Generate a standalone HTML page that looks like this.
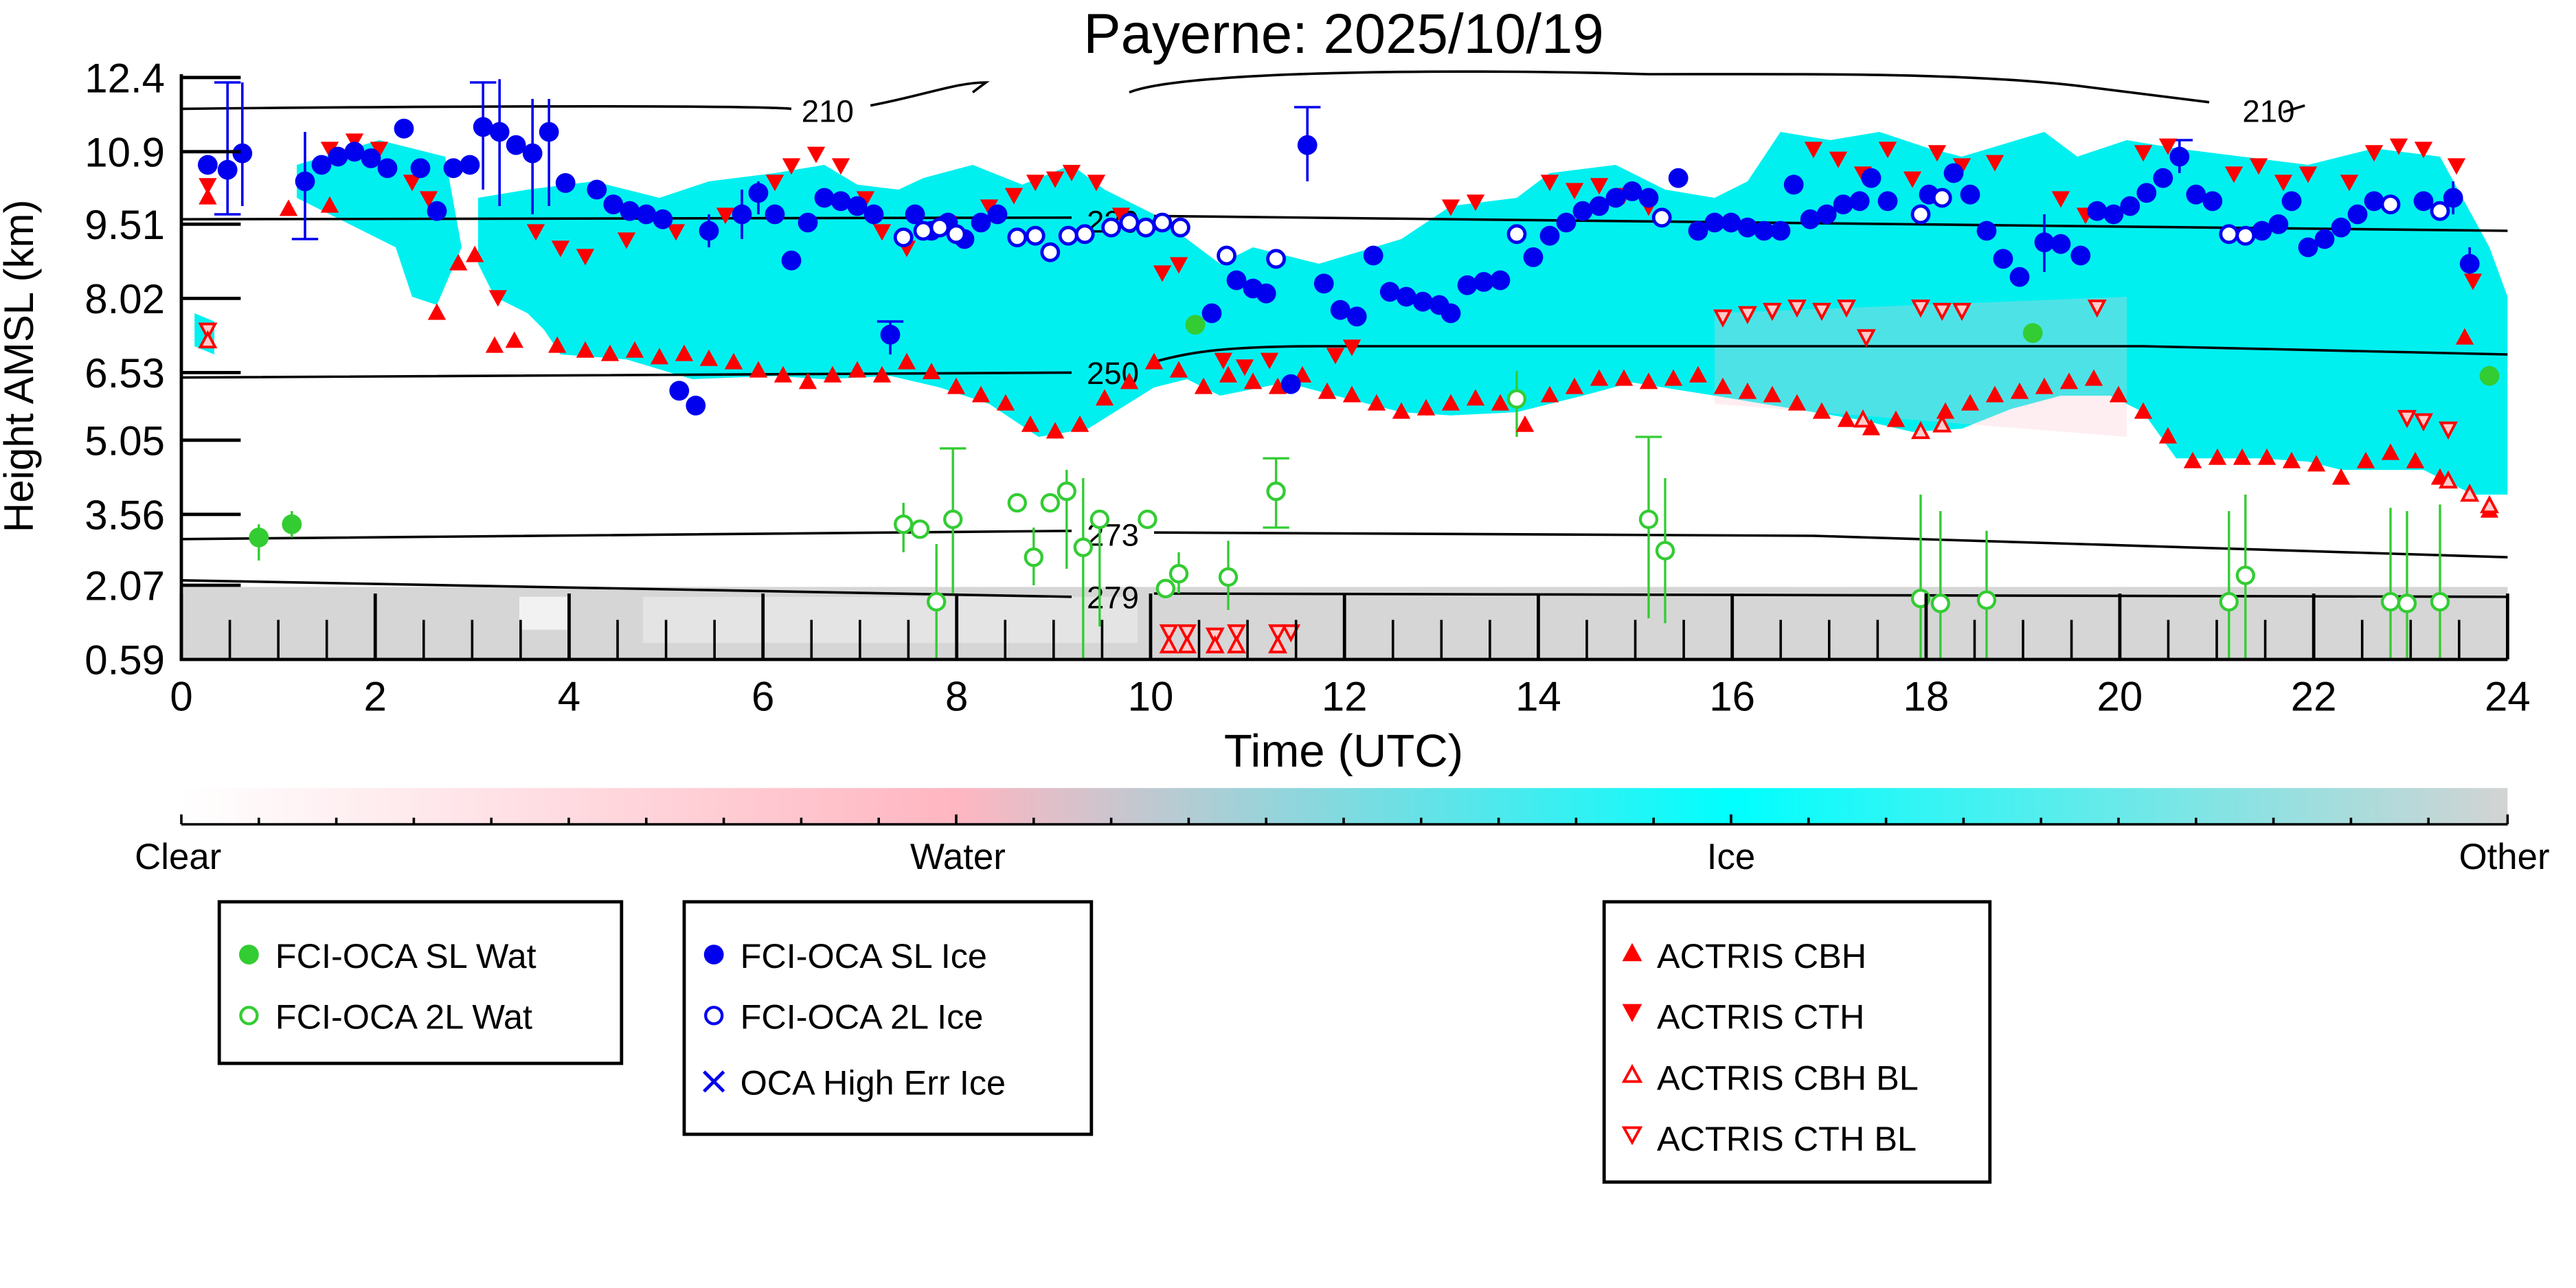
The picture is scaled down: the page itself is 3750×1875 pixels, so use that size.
<!DOCTYPE html>
<html><head><meta charset="utf-8"><style>html,body{margin:0;padding:0;background:#fff}svg{display:block}</style></head><body>
<svg xmlns="http://www.w3.org/2000/svg" xmlns:xlink="http://www.w3.org/1999/xlink" width="3750" height="1875" viewBox="0 0 1562.5 781.25" font-family="Liberation Sans, DejaVu Sans, sans-serif">
<defs>
<linearGradient id="cb" x1="0" x2="1" y1="0" y2="0">
<stop offset="0" stop-color="#ffffff"/><stop offset="0.333" stop-color="#ffb6c1"/><stop offset="0.667" stop-color="#00ffff"/><stop offset="1" stop-color="#d3d3d3"/></linearGradient>
<path id="tu" d="M0,-6 L5.5,4 L-5.5,4Z" fill="red"/>
<path id="td" d="M0,6 L5.5,-4 L-5.5,-4Z" fill="red"/>
<path id="tuo" d="M0,-5 L4.5,3.5 L-4.5,3.5Z" fill="#fcc" stroke="red" stroke-width="1.6"/>
<path id="tdo" d="M0,5 L4.5,-3.5 L-4.5,-3.5Z" fill="#fcc" stroke="red" stroke-width="1.6"/>
<circle id="bf" r="6" fill="#0000ee"/>
<circle id="bo" r="5" fill="#fff" stroke="#0000ee" stroke-width="2"/>
<circle id="gf" r="6" fill="#33cc33"/>
<circle id="go" r="5" fill="#fff" stroke="#33cc33" stroke-width="1.8"/>
</defs>
<text x="815" y="32" font-size="34" text-anchor="middle">Payerne: 2025/10/19</text>
<!-- ground clutter -->
<rect x="110" y="356" width="1411" height="44" fill="#d6d6d6"/>
<rect x="390" y="362" width="300" height="28" fill="#e4e4e4"/>
<rect x="315" y="362" width="30" height="20" fill="#f2f2f2"/>
<!-- cyan cloud -->
<path fill="#00f0f0" d="M290,120 L320,115 L360,110 L400,120 L430,110 L470,105 L500,100 L520,112 L545,115 L560,108 L590,100 L620,112 L650,100 L670,115 L700,130 L740,160 L760,150 L800,160 L850,145 L880,125 L920,120 L940,105 L980,100 L1010,115 L1040,120 L1060,110 L1080,80 L1110,85 L1140,80 L1170,90 L1190,95 L1240,80 L1260,95 L1290,85 L1320,90 L1360,95 L1400,100 L1440,90 L1480,95 L1510,150 L1521,180 L1521,300 L1500,300 L1470,285 L1420,285 L1400,280 L1370,278 L1320,278 L1300,250 L1280,240 L1250,240 L1220,248 L1190,260 L1160,262 L1130,255 L1100,250 L1040,240 L990,232 L960,240 L920,250 L880,252 L850,250 L810,240 L780,232 L740,240 L720,230 L700,235 L660,260 L630,265 L600,245 L570,235 L540,228 L500,230 L470,228 L420,230 L380,218 L340,215 L330,200 L320,190 L300,180 L290,160Z"/>
<path fill="#00f0f0" d="M180,100 L230,85 L270,95 L280,150 L265,185 L250,180 L240,150 L200,130 L180,120Z"/>
<path fill="#00f0f0" d="M118,190 L130,195 L130,215 L118,210Z"/>
<path fill="#ffc8d0" opacity="0.3" d="M1040,190 L1290,180 L1290,265 L1040,245Z"/>
<!-- contours -->
<g fill="none" stroke="#000" stroke-width="1.5">
<path d="M110,66 C300,64 460,64 480,66 M528,64 C560,58 580,50 598,50 L590,56 M685,56 C720,42 900,42 1000,45 C1100,45 1190,44 1260,52 L1340,62 M1398,64 L1385,68"/>
<path d="M110,133 L650,132 M700,131 L1521,140"/>
<path d="M110,229 L650,226 M698,220 C720,214 740,210 800,210 L1300,210 L1521,215"/>
<path d="M110,327 L650,322 M700,323 L1100,325 L1521,338"/>
<path d="M110,352 L650,362 M700,360 L1521,362"/>
</g>
<g font-size="19" text-anchor="middle"><text x="502" y="74">210</text><text x="1376" y="74">210</text><text x="675" y="141">230</text><text x="675" y="233">250</text><text x="675" y="331">273</text><text x="675" y="369">279</text></g>
<!-- error bars -->
<g stroke="#0000ee" stroke-width="1.5">
<path d="M138,50 V130 M130,50H146 M130,130H146 M147,50 V125 M185,80 V145 M177,145H193 M293,50 V115 M285,50H301 M303,48V125 M323,60V130 M333,60V125 M540,195V215 M532,195H548 M793,65V110 M785,65H801 M1322,85V105 M1314,85H1330 M1240,130V165 M1488,110V130 M1498,150V170 M430,130V150 M450,115V145 M460,110V130"/>
</g>
<g stroke="#33cc33" stroke-width="1.4">
<path d="M157,318V340 M177,310V326 M548,305V335 M568,330V400 M578,272V360 M570,272H586 M627,320V355 M647,285V345 M657,290V400 M667,310V380 M715,335V360 M745,328V370 M774,278V320 M766,278H782 M774,320H782 M766,320H774 M920,225V265 M1000,265V375 M992,265H1008 M1010,290V378 M1165,300V400 M1177,310V400 M1205,322V400 M1352,310V400 M1362,300V400 M1450,308V400 M1460,310V400 M1480,306V400"/>
</g>
<!-- triangles CBH -->
<g>
<use href="#tu" x="126" y="120"/><use href="#tu" x="175" y="127"/><use href="#tu" x="200" y="125"/><use href="#tu" x="265" y="190"/><use href="#tu" x="278" y="160"/><use href="#tu" x="288" y="155"/><use href="#tu" x="300" y="210"/><use href="#tu" x="312" y="207"/><use href="#tu" x="338" y="210"/>
<use href="#tu" x="355" y="213"/><use href="#tu" x="370" y="215"/><use href="#tu" x="385" y="213"/><use href="#tu" x="400" y="217"/><use href="#tu" x="415" y="215"/><use href="#tu" x="430" y="218"/><use href="#tu" x="445" y="220"/><use href="#tu" x="460" y="225"/><use href="#tu" x="475" y="228"/><use href="#tu" x="490" y="232"/><use href="#tu" x="505" y="228"/><use href="#tu" x="520" y="225"/><use href="#tu" x="535" y="228"/><use href="#tu" x="550" y="220"/><use href="#tu" x="565" y="226"/><use href="#tu" x="580" y="235"/><use href="#tu" x="595" y="240"/><use href="#tu" x="610" y="245"/><use href="#tu" x="625" y="258"/><use href="#tu" x="640" y="262"/><use href="#tu" x="655" y="258"/><use href="#tu" x="670" y="242"/><use href="#tu" x="685" y="232"/><use href="#tu" x="700" y="220"/><use href="#tu" x="715" y="225"/><use href="#tu" x="730" y="235"/><use href="#tu" x="745" y="228"/><use href="#tu" x="760" y="232"/><use href="#tu" x="775" y="235"/><use href="#tu" x="790" y="228"/><use href="#tu" x="805" y="238"/><use href="#tu" x="820" y="240"/><use href="#tu" x="835" y="245"/><use href="#tu" x="850" y="250"/><use href="#tu" x="865" y="248"/><use href="#tu" x="880" y="245"/><use href="#tu" x="895" y="242"/><use href="#tu" x="910" y="245"/><use href="#tu" x="925" y="258"/><use href="#tu" x="940" y="240"/><use href="#tu" x="955" y="235"/><use href="#tu" x="970" y="230"/><use href="#tu" x="985" y="230"/><use href="#tu" x="1000" y="232"/><use href="#tu" x="1015" y="230"/><use href="#tu" x="1030" y="228"/><use href="#tu" x="1045" y="235"/><use href="#tu" x="1060" y="238"/><use href="#tu" x="1075" y="240"/><use href="#tu" x="1090" y="245"/><use href="#tu" x="1105" y="250"/><use href="#tu" x="1120" y="255"/><use href="#tu" x="1135" y="260"/><use href="#tu" x="1150" y="255"/><use href="#tu" x="1180" y="250"/><use href="#tu" x="1195" y="245"/><use href="#tu" x="1210" y="240"/><use href="#tu" x="1225" y="238"/><use href="#tu" x="1240" y="235"/><use href="#tu" x="1255" y="232"/><use href="#tu" x="1270" y="230"/><use href="#tu" x="1285" y="240"/><use href="#tu" x="1300" y="250"/><use href="#tu" x="1315" y="265"/><use href="#tu" x="1330" y="280"/><use href="#tu" x="1345" y="278"/><use href="#tu" x="1360" y="278"/><use href="#tu" x="1375" y="278"/><use href="#tu" x="1390" y="280"/><use href="#tu" x="1405" y="282"/><use href="#tu" x="1420" y="290"/><use href="#tu" x="1435" y="280"/><use href="#tu" x="1450" y="275"/><use href="#tu" x="1465" y="280"/><use href="#tu" x="1480" y="290"/><use href="#tu" x="1495" y="205"/><use href="#tu" x="1510" y="310"/>
</g>
<!-- triangles CTH -->
<g>
<use href="#td" x="126" y="112"/><use href="#td" x="200" y="90"/><use href="#td" x="215" y="85"/><use href="#td" x="230" y="90"/><use href="#td" x="250" y="110"/><use href="#td" x="260" y="120"/><use href="#td" x="302" y="180"/><use href="#td" x="325" y="140"/><use href="#td" x="340" y="150"/><use href="#td" x="355" y="155"/><use href="#td" x="380" y="145"/><use href="#td" x="410" y="140"/><use href="#td" x="440" y="130"/><use href="#td" x="470" y="110"/><use href="#td" x="480" y="100"/><use href="#td" x="495" y="93"/><use href="#td" x="510" y="100"/><use href="#td" x="525" y="120"/><use href="#td" x="535" y="140"/><use href="#td" x="550" y="150"/><use href="#td" x="575" y="135"/><use href="#td" x="600" y="125"/><use href="#td" x="615" y="118"/><use href="#td" x="628" y="110"/><use href="#td" x="640" y="108"/><use href="#td" x="650" y="104"/><use href="#td" x="665" y="110"/><use href="#td" x="680" y="130"/><use href="#td" x="705" y="165"/><use href="#td" x="715" y="160"/><use href="#td" x="742" y="218"/><use href="#td" x="755" y="222"/><use href="#td" x="770" y="218"/><use href="#td" x="810" y="215"/><use href="#td" x="820" y="210"/><use href="#td" x="880" y="125"/><use href="#td" x="895" y="122"/><use href="#td" x="940" y="110"/><use href="#td" x="955" y="115"/><use href="#td" x="970" y="112"/><use href="#td" x="985" y="118"/><use href="#td" x="1000" y="125"/><use href="#td" x="1100" y="90"/><use href="#td" x="1115" y="96"/><use href="#td" x="1130" y="105"/><use href="#td" x="1145" y="90"/><use href="#td" x="1160" y="108"/><use href="#td" x="1175" y="92"/><use href="#td" x="1190" y="100"/><use href="#td" x="1210" y="98"/><use href="#td" x="1250" y="120"/><use href="#td" x="1265" y="130"/><use href="#td" x="1300" y="92"/><use href="#td" x="1315" y="88"/><use href="#td" x="1355" y="105"/><use href="#td" x="1370" y="100"/><use href="#td" x="1385" y="110"/><use href="#td" x="1400" y="105"/><use href="#td" x="1425" y="110"/><use href="#td" x="1440" y="92"/><use href="#td" x="1455" y="88"/><use href="#td" x="1470" y="90"/><use href="#td" x="1490" y="100"/><use href="#td" x="1500" y="170"/>
</g>
<!-- BL open triangles -->
<g>
<use href="#tdo" x="126" y="200"/><use href="#tuo" x="126" y="207"/>
<use href="#tdo" x="709" y="383"/><use href="#tuo" x="709" y="392"/><use href="#tdo" x="720" y="383"/><use href="#tuo" x="720" y="392"/><use href="#tdo" x="737" y="385"/><use href="#tuo" x="737" y="392"/><use href="#tdo" x="750" y="383"/><use href="#tuo" x="750" y="392"/><use href="#tdo" x="775" y="383"/><use href="#tuo" x="775" y="392"/><use href="#tdo" x="783" y="383"/>
<use href="#tdo" x="1045" y="192"/><use href="#tdo" x="1060" y="190"/><use href="#tdo" x="1075" y="188"/><use href="#tdo" x="1090" y="186"/><use href="#tdo" x="1105" y="188"/><use href="#tdo" x="1120" y="186"/><use href="#tdo" x="1132" y="204"/><use href="#tdo" x="1165" y="186"/><use href="#tdo" x="1178" y="188"/><use href="#tdo" x="1190" y="188"/><use href="#tdo" x="1272" y="186"/>
<use href="#tuo" x="1130" y="255"/><use href="#tuo" x="1165" y="262"/><use href="#tuo" x="1178" y="258"/>
<use href="#tdo" x="1460" y="253"/><use href="#tdo" x="1470" y="255"/><use href="#tdo" x="1485" y="260"/><use href="#tuo" x="1485" y="292"/><use href="#tuo" x="1498" y="300"/><use href="#tuo" x="1510" y="307"/>
</g>
<!-- blue circles -->
<g>
<use href="#bf" x="126" y="100"/><use href="#bf" x="138" y="103"/><use href="#bf" x="147" y="93"/><use href="#bf" x="185" y="110"/><use href="#bf" x="195" y="100"/><use href="#bf" x="205" y="95"/><use href="#bf" x="215" y="92"/><use href="#bf" x="225" y="96"/><use href="#bf" x="235" y="102"/><use href="#bf" x="245" y="78"/><use href="#bf" x="255" y="102"/><use href="#bf" x="265" y="128"/><use href="#bf" x="275" y="102"/><use href="#bf" x="285" y="100"/><use href="#bf" x="293" y="77"/><use href="#bf" x="303" y="80"/><use href="#bf" x="313" y="88"/><use href="#bf" x="323" y="93"/><use href="#bf" x="333" y="80"/><use href="#bf" x="343" y="111"/><use href="#bf" x="362" y="115"/><use href="#bf" x="372" y="124"/><use href="#bf" x="382" y="128"/><use href="#bf" x="392" y="130"/><use href="#bf" x="402" y="133"/><use href="#bf" x="412" y="237"/><use href="#bf" x="422" y="246"/><use href="#bf" x="430" y="140"/><use href="#bf" x="450" y="130"/><use href="#bf" x="460" y="117"/><use href="#bf" x="470" y="130"/><use href="#bf" x="480" y="158"/><use href="#bf" x="490" y="135"/><use href="#bf" x="500" y="120"/><use href="#bf" x="510" y="122"/><use href="#bf" x="520" y="125"/><use href="#bf" x="530" y="130"/><use href="#bf" x="540" y="203"/><use href="#bf" x="555" y="130"/><use href="#bf" x="565" y="140"/><use href="#bf" x="575" y="135"/><use href="#bf" x="585" y="145"/><use href="#bf" x="595" y="135"/><use href="#bf" x="605" y="130"/><use href="#bf" x="735" y="190"/><use href="#bf" x="750" y="170"/><use href="#bf" x="760" y="175"/><use href="#bf" x="768" y="178"/><use href="#bf" x="783" y="233"/><use href="#bf" x="793" y="88"/><use href="#bf" x="803" y="172"/><use href="#bf" x="813" y="188"/><use href="#bf" x="823" y="192"/><use href="#bf" x="833" y="155"/><use href="#bf" x="843" y="177"/><use href="#bf" x="853" y="180"/><use href="#bf" x="863" y="183"/><use href="#bf" x="873" y="185"/><use href="#bf" x="880" y="190"/><use href="#bf" x="890" y="173"/><use href="#bf" x="900" y="171"/><use href="#bf" x="910" y="170"/><use href="#bf" x="930" y="156"/><use href="#bf" x="940" y="143"/><use href="#bf" x="950" y="135"/><use href="#bf" x="960" y="128"/><use href="#bf" x="970" y="125"/><use href="#bf" x="980" y="120"/><use href="#bf" x="990" y="116"/><use href="#bf" x="1000" y="120"/><use href="#bf" x="1018" y="108"/><use href="#bf" x="1030" y="140"/><use href="#bf" x="1040" y="135"/><use href="#bf" x="1050" y="135"/><use href="#bf" x="1060" y="138"/><use href="#bf" x="1070" y="140"/><use href="#bf" x="1080" y="140"/><use href="#bf" x="1088" y="112"/><use href="#bf" x="1098" y="133"/><use href="#bf" x="1108" y="130"/><use href="#bf" x="1118" y="124"/><use href="#bf" x="1128" y="122"/><use href="#bf" x="1135" y="108"/><use href="#bf" x="1145" y="122"/><use href="#bf" x="1170" y="118"/><use href="#bf" x="1185" y="105"/><use href="#bf" x="1195" y="118"/><use href="#bf" x="1205" y="140"/><use href="#bf" x="1215" y="157"/><use href="#bf" x="1225" y="168"/><use href="#bf" x="1240" y="147"/><use href="#bf" x="1250" y="148"/><use href="#bf" x="1262" y="155"/><use href="#bf" x="1272" y="128"/><use href="#bf" x="1282" y="130"/><use href="#bf" x="1292" y="125"/><use href="#bf" x="1302" y="117"/><use href="#bf" x="1312" y="108"/><use href="#bf" x="1322" y="95"/><use href="#bf" x="1332" y="118"/><use href="#bf" x="1342" y="122"/><use href="#bf" x="1372" y="140"/><use href="#bf" x="1382" y="136"/><use href="#bf" x="1390" y="122"/><use href="#bf" x="1400" y="150"/><use href="#bf" x="1410" y="145"/><use href="#bf" x="1420" y="138"/><use href="#bf" x="1430" y="130"/><use href="#bf" x="1440" y="122"/><use href="#bf" x="1470" y="122"/><use href="#bf" x="1488" y="120"/><use href="#bf" x="1498" y="160"/>
<use href="#bo" x="548" y="144"/><use href="#bo" x="560" y="140"/><use href="#bo" x="570" y="138"/><use href="#bo" x="580" y="142"/><use href="#bo" x="617" y="144"/><use href="#bo" x="628" y="143"/><use href="#bo" x="637" y="153"/><use href="#bo" x="648" y="143"/><use href="#bo" x="658" y="142"/><use href="#bo" x="674" y="138"/><use href="#bo" x="685" y="135"/><use href="#bo" x="695" y="138"/><use href="#bo" x="705" y="135"/><use href="#bo" x="716" y="138"/><use href="#bo" x="744" y="155"/><use href="#bo" x="774" y="157"/><use href="#bo" x="920" y="142"/><use href="#bo" x="1008" y="132"/><use href="#bo" x="1165" y="130"/><use href="#bo" x="1178" y="120"/><use href="#bo" x="1352" y="142"/><use href="#bo" x="1362" y="143"/><use href="#bo" x="1450" y="124"/><use href="#bo" x="1480" y="128"/>
</g>
<!-- green circles -->
<g>
<use href="#gf" x="157" y="326"/><use href="#gf" x="177" y="318"/><use href="#gf" x="725" y="197"/><use href="#gf" x="1233" y="202"/><use href="#gf" x="1510" y="228"/>
<use href="#go" x="548" y="318"/><use href="#go" x="558" y="321"/><use href="#go" x="568" y="365"/><use href="#go" x="578" y="315"/><use href="#go" x="617" y="305"/><use href="#go" x="627" y="338"/><use href="#go" x="637" y="305"/><use href="#go" x="647" y="298"/><use href="#go" x="657" y="332"/><use href="#go" x="667" y="315"/><use href="#go" x="696" y="315"/><use href="#go" x="707" y="357"/><use href="#go" x="715" y="348"/><use href="#go" x="745" y="350"/><use href="#go" x="774" y="298"/><use href="#go" x="920" y="242"/><use href="#go" x="1000" y="315"/><use href="#go" x="1010" y="334"/><use href="#go" x="1165" y="363"/><use href="#go" x="1177" y="366"/><use href="#go" x="1205" y="364"/><use href="#go" x="1352" y="365"/><use href="#go" x="1362" y="349"/><use href="#go" x="1450" y="365"/><use href="#go" x="1460" y="366"/><use href="#go" x="1480" y="365"/>
</g>
<!-- axes -->
<g stroke="#000" stroke-width="2" fill="none">
<path d="M110,45 V400 H1521"/>
<path d="M110,47h36 M110,92h36 M110,136h36 M110,181h36 M110,226h36 M110,267h36 M110,312h36 M110,355h36"/>
<path d="M110,400v-40 M227.6,400v-40 M345.2,400v-40 M462.8,400v-40 M580.3,400v-40 M697.9,400v-40 M815.5,400v-40 M933.1,400v-40 M1050.7,400v-40 M1168.3,400v-40 M1285.8,400v-40 M1403.4,400v-40 M1521,400v-40"/>
<path stroke-width="1.5" d="M139.4,400v-24 M168.8,400v-24 M198.2,400v-24 M257,400v-24 M286.4,400v-24 M315.8,400v-24 M374.6,400v-24 M404,400v-24 M433.4,400v-24 M492.2,400v-24 M521.6,400v-24 M551,400v-24 M609.7,400v-24 M639.1,400v-24 M668.5,400v-24 M727.3,400v-24 M756.7,400v-24 M786.1,400v-24 M844.9,400v-24 M874.3,400v-24 M903.7,400v-24 M962.5,400v-24 M991.9,400v-24 M1021.3,400v-24 M1080.1,400v-24 M1109.5,400v-24 M1138.9,400v-24 M1197.7,400v-24 M1227.1,400v-24 M1256.5,400v-24 M1315.2,400v-24 M1344.6,400v-24 M1374,400v-24 M1432.8,400v-24 M1462.2,400v-24 M1491.6,400v-24"/>
</g>
<g font-size="25" text-anchor="end"><text x="100" y="56">12.4</text><text x="100" y="101">10.9</text><text x="100" y="145">9.51</text><text x="100" y="190">8.02</text><text x="100" y="235">6.53</text><text x="100" y="276">5.05</text><text x="100" y="321">3.56</text><text x="100" y="364">2.07</text><text x="100" y="409">0.59</text></g>
<text transform="translate(20,222) rotate(-90)" font-size="25" text-anchor="middle">Height AMSL (km)</text>
<g font-size="25" text-anchor="middle"><text x="110" y="431">0</text><text x="227.6" y="431">2</text><text x="345.2" y="431">4</text><text x="462.8" y="431">6</text><text x="580.3" y="431">8</text><text x="697.9" y="431">10</text><text x="815.5" y="431">12</text><text x="933.1" y="431">14</text><text x="1050.7" y="431">16</text><text x="1168.3" y="431">18</text><text x="1285.8" y="431">20</text><text x="1403.4" y="431">22</text><text x="1521" y="431">24</text></g>
<text x="815" y="465" font-size="28" text-anchor="middle">Time (UTC)</text>
<!-- colorbar -->
<rect x="110" y="478" width="1411" height="22" fill="url(#cb)"/>
<path stroke="#000" stroke-width="1.5" d="M110,500H1521 M110,500v-6 M157,500v-4 M204,500v-4 M251,500v-4 M298,500v-4 M345,500v-4 M392,500v-4 M439,500v-4 M486,500v-4 M533,500v-4 M580,500v-6 M627,500v-4 M674,500v-4 M721,500v-4 M768,500v-4 M815,500v-4 M862,500v-4 M909,500v-4 M956,500v-4 M1003,500v-4 M1050,500v-6 M1097,500v-4 M1144,500v-4 M1191,500v-4 M1238,500v-4 M1285,500v-4 M1332,500v-4 M1379,500v-4 M1426,500v-4 M1473,500v-4 M1521,500v-6"/>
<g font-size="22" text-anchor="middle"><text x="108" y="527">Clear</text><text x="581" y="527">Water</text><text x="1050" y="527">Ice</text><text x="1519" y="527">Other</text></g>
<!-- legends -->
<g fill="none" stroke="#000" stroke-width="2"><rect x="133" y="547" width="244" height="98"/><rect x="415" y="547" width="247" height="141"/><rect x="973" y="547" width="234" height="170"/></g>
<g font-size="21">
<circle cx="151" cy="579" r="6" fill="#33cc33"/><text x="167" y="587">FCI-OCA SL Wat</text>
<circle cx="151" cy="616" r="5" fill="none" stroke="#33cc33" stroke-width="1.8"/><text x="167" y="624">FCI-OCA 2L Wat</text>
<circle cx="433" cy="579" r="6" fill="#0000ee"/><text x="449" y="587">FCI-OCA SL Ice</text>
<circle cx="433" cy="616" r="5" fill="none" stroke="#0000ee" stroke-width="1.8"/><text x="449" y="624">FCI-OCA 2L Ice</text>
<path d="M427,650l12,12M439,650l-12,12" stroke="#0000ee" stroke-width="2"/><text x="449" y="664">OCA High Err Ice</text>
<path d="M990,572 l6,11 h-12z" fill="red"/><text x="1005" y="587">ACTRIS CBH</text>
<path d="M990,620 l6,-11 h-12z" fill="red"/><text x="1005" y="624">ACTRIS CTH</text>
<path d="M990,647 l5,9 h-10z" fill="none" stroke="red" stroke-width="1.6"/><text x="1005" y="661">ACTRIS CBH BL</text>
<path d="M990,693 l5,-9 h-10z" fill="none" stroke="red" stroke-width="1.6"/><text x="1005" y="698">ACTRIS CTH BL</text>
</g>
</svg>
</body></html>
